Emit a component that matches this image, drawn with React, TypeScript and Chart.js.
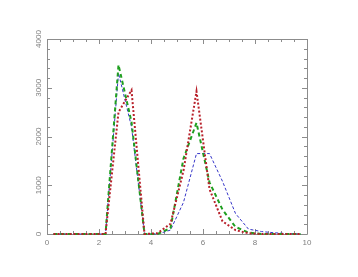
import React, { useEffect, useRef } from "react";
import { Chart, registerables } from "chart.js";

Chart.register(...registerables);

const xValues = [0.25, 0.75, 1.25, 1.75, 2.25, 2.75, 3.25, 3.75, 4.25, 4.75, 5.25, 5.75, 6.25, 6.75, 7.25, 7.75, 8.25, 8.75, 9.25, 9.75];
const redValues = [0, 0, 0, 0, 0, 2500, 2950, 0, 15, 210, 1300, 2925, 920, 260, 80, 15, 0, 0, 0, 0];
const greenValues = [0, 0, 0, 0, 0, 3470, 2300, 0, 0, 120, 1550, 2280, 1060, 500, 145, 30, 0, 0, 0, 0];
const blueValues = [0, 0, 0, 0, 0, 3300, 2200, 0, 0, 80, 650, 1650, 1650, 1080, 420, 100, 50, 25, 8, 0];
const xTicks = [0, 2, 4, 6, 8, 10];
const yTicks = [0, 1000, 2000, 3000, 4000];

const toPoints = (ys: number[]) => ys.map((y, i) => ({ x: xValues[i], y }));

const framePlugin = {
  id: "frameTicks",
  beforeDatasetsDraw(chart: any) {
    const { ctx, chartArea, scales } = chart;
    const { left, right, top, bottom } = chartArea;
    const xs = scales.x;
    const ys = scales.y;
    ctx.save();
    ctx.strokeStyle = "#8c8c8c";
    ctx.lineWidth = 1;
    ctx.beginPath();
    ctx.rect(Math.round(left) + 0.5, Math.round(top) + 0.5, Math.round(right - left), Math.round(bottom - top));
    ctx.stroke();
    ctx.beginPath();
    for (let v = 0; v <= 10.0001; v += 0.5) {
      const px = Math.round(xs.getPixelForValue(v)) + 0.5;
      const major = Math.abs(v / 2 - Math.round(v / 2)) < 1e-6;
      const len = major ? 5 : 3;
      ctx.moveTo(px, bottom);
      ctx.lineTo(px, bottom - len);
      ctx.moveTo(px, top);
      ctx.lineTo(px, top + len);
    }
    for (let v = 0; v <= 4000.0001; v += 200) {
      const py = Math.round(ys.getPixelForValue(v)) + 0.5;
      const major = v % 1000 === 0;
      const len = major ? 5 : 3;
      ctx.moveTo(left, py);
      ctx.lineTo(left + len, py);
      ctx.moveTo(right, py);
      ctx.lineTo(right - len, py);
    }
    ctx.stroke();
    ctx.restore();
  },
};

export default function App() {
  const ref = useRef<HTMLCanvasElement>(null);
  useEffect(() => {
    if (!ref.current) return;
    const chart = new Chart(ref.current, {
      type: "line",
      data: {
        datasets: [
          {
            label: "red",
            data: toPoints(redValues),
            borderColor: "#b8202a",
            borderWidth: 2,
            borderDash: [2, 2],
            pointRadius: 0,
            tension: 0,
            clip: false as any,
          },
          {
            label: "green",
            data: toPoints(greenValues),
            borderColor: "#1f9f1f",
            borderWidth: 2,
            borderDash: [4, 3],
            pointRadius: 0,
            tension: 0,
            clip: false as any,
          },
          {
            label: "blue",
            data: toPoints(blueValues),
            borderColor: "#3535c8",
            borderWidth: 1,
            borderDash: [3, 2],
            pointRadius: 0,
            tension: 0,
            clip: false as any,
          },
        ],
      },
      options: {
        animation: false,
        responsive: false,
        maintainAspectRatio: false,
        layout: { padding: { left: 0, right: 51, top: 39, bottom: 0 } },
        plugins: { legend: { display: false }, tooltip: { enabled: false } },
        scales: {
          x: {
            type: "linear",
            min: 0,
            max: 10,
            grid: { display: false, drawTicks: false },
            border: { display: false },
            afterBuildTicks: (s: any) => {
              s.ticks = xTicks.map((v) => ({ value: v }));
            },
            afterFit: (s: any) => {
              s.height = 43;
            },
            ticks: {
              color: "#808080",
              padding: 4,
              maxRotation: 0,
              callback: (v: any) => String(v),
              font: { family: "Liberation Sans", size: 8 },
            },
          },
          y: {
            type: "linear",
            min: 0,
            max: 4000,
            grid: { display: false, drawTicks: false },
            border: { display: false },
            afterBuildTicks: (s: any) => {
              s.ticks = yTicks.map((v) => ({ value: v }));
            },
            afterFit: (s: any) => {
              s.width = 47;
            },
            ticks: {
              color: "#808080",
              padding: -1,
              minRotation: 90,
              maxRotation: 90,
              crossAlign: "center",
              callback: (v: any) => String(v),
              font: { family: "Liberation Sans", size: 8 },
            },
          },
        },
      },
      plugins: [framePlugin],
    });
    return () => chart.destroy();
  }, []);
  return (
    <div style={{ position: "absolute", left: 0, top: 0, width: 358, height: 277, background: "#fff" }}>
      <canvas ref={ref} width={358} height={277} style={{ display: "block" }} />
    </div>
  );
}
